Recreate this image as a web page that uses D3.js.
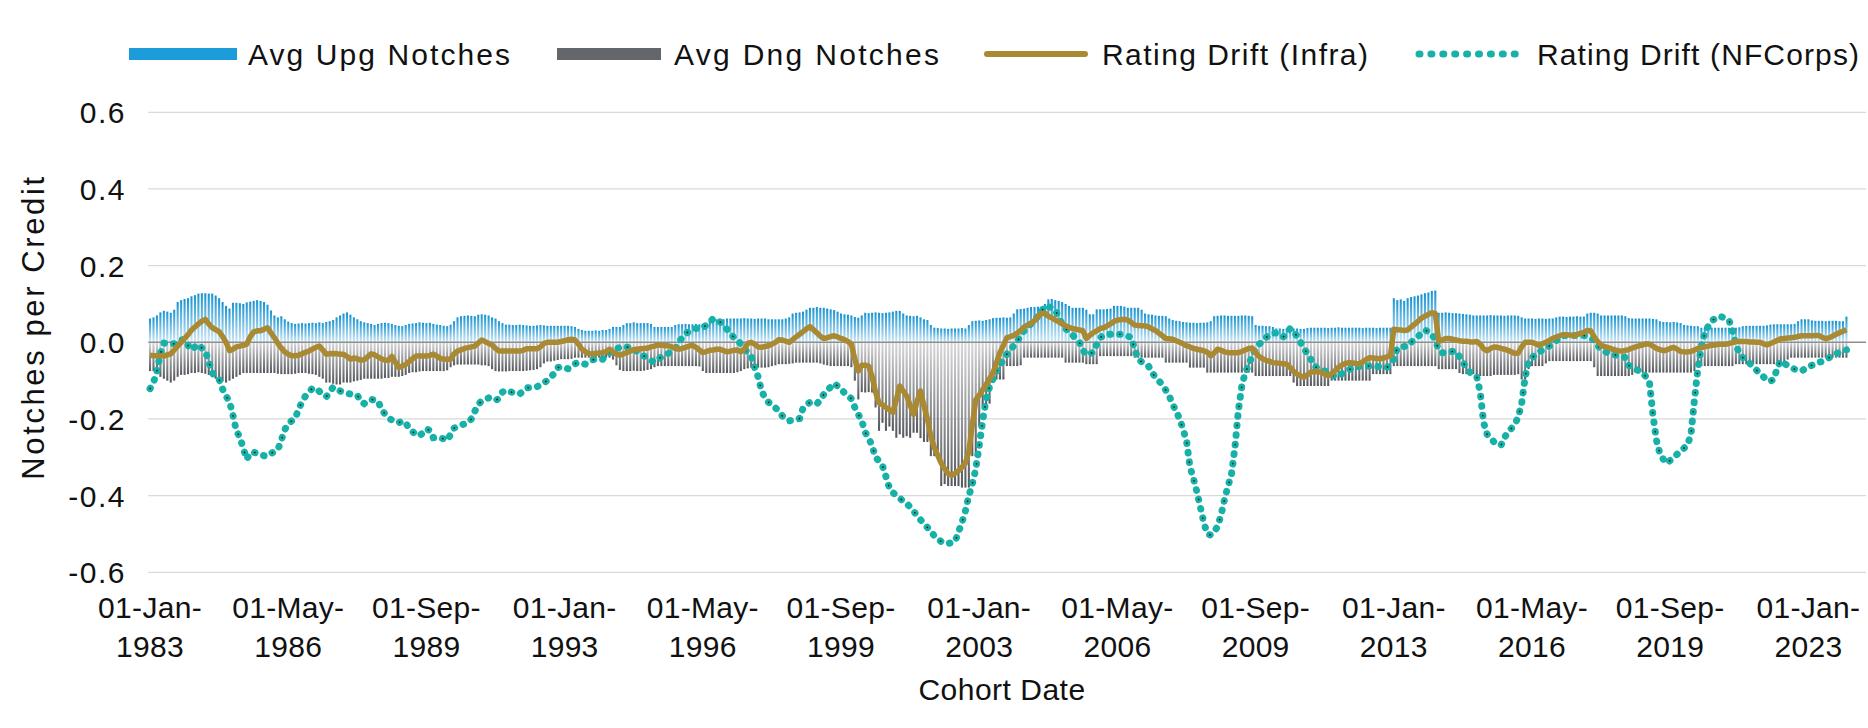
<!DOCTYPE html>
<html>
<head>
<meta charset="UTF-8">
<title>Rating Drift</title>
<script src="https://cdn.jsdelivr.net/npm/d3@7"></script>
<style>
body{margin:0;background:#fff;}
svg text{font-family:"Liberation Sans",Arial,sans-serif;fill:#111;}
</style>
</head>
<body>
<script>
var width=1868,height=728;

// monthly cohorts, Jan 1983 .. Dec 2023
var firstMonth=new Date(1983,0,1), endMonth=new Date(2024,0,1);
var tickLabels=["01-Jan-1983","01-May-1986","01-Sep-1989","01-Jan-1993","01-May-1996","01-Sep-1999",
  "01-Jan-2003","01-May-2006","01-Sep-2009","01-Jan-2013","01-May-2016","01-Sep-2019","01-Jan-2023"];
var seriesNames=["Avg Upg Notches","Avg Dng Notches","Rating Drift (Infra)","Rating Drift (NFCorps)"];

// one row per year
var upg=[
.062,.065,.070,.078,.082,.080,.077,.085,.105,.110,.113,.115,
.120,.123,.127,.128,.128,.127,.127,.122,.115,.105,.095,.088,
.103,.103,.102,.100,.104,.106,.108,.110,.108,.105,.098,.083,
.070,.065,.068,.060,.054,.050,.048,.049,.050,.049,.050,.051,
.050,.052,.050,.053,.055,.058,.065,.070,.075,.078,.072,.065,
.060,.055,.052,.050,.048,.045,.048,.050,.051,.050,.048,.045,
.043,.042,.045,.048,.049,.050,.052,.051,.050,.051,.048,.046,
.045,.043,.042,.046,.055,.065,.068,.069,.070,.069,.068,.072,
.073,.072,.070,.065,.062,.055,.050,.046,.046,.045,.045,.046,
.045,.044,.043,.043,.044,.045,.044,.043,.043,.043,.043,.043,
.043,.043,.042,.040,.035,.032,.030,.030,.030,.031,.030,.032,
.032,.035,.040,.040,.040,.045,.050,.050,.052,.050,.050,.050,
.050,.048,.040,.040,.040,.040,.040,.040,.045,.047,.047,.048,
.047,.047,.048,.047,.048,.050,.055,.060,.060,.060,.060,.062,
.062,.062,.062,.062,.063,.062,.062,.061,.062,.062,.062,.060,
.060,.060,.060,.060,.062,.065,.075,.077,.078,.080,.085,.090,
.090,.092,.090,.090,.088,.086,.084,.080,.075,.073,.072,.070,
.066,.064,.070,.077,.076,.077,.078,.077,.076,.077,.078,.080,
.082,.082,.075,.070,.069,.068,.069,.065,.060,.058,.045,.038,
.037,.036,.036,.035,.036,.036,.036,.037,.036,.045,.055,.056,
.057,.056,.058,.060,.063,.064,.064,.065,.064,.065,.075,.086,
.087,.088,.090,.092,.092,.093,.092,.100,.112,.113,.110,.108,
.105,.100,.095,.090,.090,.090,.090,.085,.073,.073,.086,.086,
.086,.087,.088,.095,.095,.095,.093,.090,.090,.090,.090,.085,
.075,.073,.072,.070,.069,.069,.068,.062,.058,.056,.055,.053,
.052,.051,.051,.050,.051,.051,.052,.055,.068,.069,.070,.070,
.069,.069,.069,.069,.070,.070,.069,.068,.045,.043,.043,.042,
.042,.040,.036,.036,.035,.036,.035,.036,.036,.035,.035,.037,
.038,.038,.038,.038,.038,.037,.038,.038,.039,.038,.038,.038,
.038,.038,.038,.037,.038,.038,.038,.037,.038,.038,.038,.038,
.115,.110,.112,.108,.115,.118,.120,.122,.125,.128,.130,.134,
.135,.077,.077,.078,.077,.076,.076,.075,.074,.073,.072,.070,
.070,.070,.070,.070,.071,.070,.070,.070,.069,.070,.070,.070,
.069,.065,.062,.062,.062,.061,.062,.062,.061,.062,.062,.065,
.067,.067,.066,.067,.067,.068,.067,.067,.075,.077,.077,.075,
.070,.070,.070,.070,.070,.070,.070,.068,.063,.062,.062,.062,
.062,.062,.062,.061,.060,.055,.053,.053,.052,.053,.052,.050,
.045,.044,.043,.042,.042,.038,.038,.038,.038,.038,.038,.038,
.038,.038,.038,.038,.039,.042,.043,.043,.043,.043,.043,.043,
.044,.046,.047,.047,.047,.047,.047,.047,.048,.055,.060,.060,
.060,.057,.056,.056,.056,.055,.056,.056,.056,.055,.055,.067];

var dng=[
-.075,-.075,-.078,-.090,-.095,-.100,-.105,-.100,-.090,-.085,-.085,-.083,
-.080,-.080,-.078,-.080,-.082,-.085,-.090,-.095,-.100,-.102,-.105,-.100,
-.095,-.090,-.085,-.080,-.080,-.080,-.080,-.080,-.080,-.080,-.080,-.080,
-.080,-.082,-.083,-.083,-.083,-.083,-.082,-.080,-.080,-.080,-.082,-.083,
-.085,-.090,-.095,-.105,-.105,-.108,-.110,-.110,-.105,-.105,-.105,-.102,
-.100,-.098,-.095,-.095,-.095,-.095,-.095,-.095,-.093,-.093,-.090,-.090,
-.090,-.088,-.085,-.080,-.078,-.078,-.076,-.075,-.075,-.075,-.075,-.075,
-.075,-.075,-.073,-.065,-.060,-.058,-.058,-.058,-.058,-.058,-.058,-.058,
-.060,-.060,-.062,-.070,-.075,-.076,-.076,-.076,-.075,-.075,-.075,-.075,
-.075,-.074,-.073,-.072,-.070,-.065,-.055,-.050,-.050,-.048,-.046,-.044,
-.044,-.044,-.043,-.040,-.040,-.040,-.040,-.040,-.040,-.040,-.040,-.040,
-.040,-.040,-.045,-.060,-.072,-.075,-.075,-.075,-.074,-.075,-.075,-.074,
-.072,-.070,-.065,-.062,-.062,-.062,-.062,-.062,-.062,-.062,-.062,-.062,
-.062,-.062,-.062,-.063,-.075,-.080,-.080,-.080,-.080,-.080,-.080,-.080,
-.080,-.080,-.078,-.075,-.070,-.068,-.066,-.066,-.066,-.066,-.066,-.065,
-.062,-.060,-.057,-.057,-.057,-.056,-.055,-.053,-.053,-.053,-.053,-.053,
-.053,-.053,-.055,-.058,-.060,-.062,-.062,-.062,-.062,-.062,-.062,-.065,
-.100,-.149,-.130,-.131,-.130,-.131,-.170,-.231,-.210,-.231,-.220,-.231,
-.249,-.240,-.249,-.245,-.249,-.236,-.236,-.250,-.260,-.260,-.297,-.297,
-.297,-.375,-.370,-.375,-.375,-.375,-.375,-.379,-.379,-.379,-.297,-.297,
-.220,-.166,-.166,-.160,-.097,-.097,-.097,-.097,-.062,-.062,-.062,-.062,
-.060,-.040,-.040,-.040,-.040,-.040,-.040,-.040,-.040,-.040,-.040,-.040,
-.040,-.053,-.053,-.053,-.053,-.053,-.053,-.057,-.057,-.057,-.057,-.036,
-.036,-.036,-.036,-.036,-.036,-.036,-.036,-.036,-.036,-.040,-.040,-.040,
-.040,-.040,-.040,-.040,-.040,-.040,-.053,-.053,-.053,-.053,-.053,-.053,
-.053,-.066,-.066,-.066,-.066,-.066,-.079,-.079,-.079,-.079,-.079,-.079,
-.079,-.079,-.079,-.079,-.079,-.079,-.079,-.079,-.088,-.088,-.088,-.088,
-.088,-.088,-.088,-.088,-.088,-.088,-.088,-.105,-.114,-.114,-.114,-.114,
-.114,-.114,-.114,-.114,-.114,-.114,-.100,-.100,-.100,-.100,-.100,-.100,
-.100,-.100,-.100,-.100,-.100,-.100,-.083,-.083,-.083,-.083,-.083,-.083,
-.062,-.062,-.062,-.062,-.062,-.062,-.062,-.062,-.062,-.062,-.062,-.062,
-.062,-.070,-.070,-.070,-.070,-.070,-.070,-.080,-.083,-.083,-.083,-.083,
-.088,-.088,-.088,-.088,-.088,-.085,-.085,-.085,-.085,-.085,-.085,-.085,
-.083,-.097,-.097,-.070,-.062,-.062,-.062,-.062,-.055,-.049,-.049,-.049,
-.049,-.049,-.049,-.049,-.049,-.049,-.049,-.049,-.049,-.049,-.065,-.088,
-.088,-.088,-.088,-.088,-.088,-.088,-.088,-.088,-.088,-.085,-.080,-.079,
-.079,-.079,-.079,-.079,-.079,-.079,-.079,-.079,-.079,-.079,-.079,-.079,
-.079,-.079,-.079,-.075,-.062,-.062,-.062,-.062,-.062,-.062,-.062,-.062,
-.062,-.062,-.062,-.057,-.057,-.057,-.057,-.057,-.057,-.057,-.057,-.057,
-.057,-.057,-.057,-.057,-.057,-.055,-.045,-.040,-.040,-.040,-.040,-.040,
-.040,-.040,-.040,-.040,-.040,-.040,-.040,-.040,-.040,-.040,-.040,-.040];

var infra=[
-.034,-.035,-.035,-.035,-.036,-.033,-.030,-.020,-.010,.000,.010,.020,
.032,.040,.048,.055,.060,.048,.038,.033,.028,.015,.000,-.022,
-.018,-.012,-.010,-.008,-.005,.015,.027,.030,.030,.034,.038,.025,
.012,-.003,-.015,-.025,-.031,-.035,-.035,-.034,-.030,-.026,-.023,-.018,
-.013,-.010,-.020,-.031,-.030,-.029,-.030,-.031,-.031,-.037,-.044,-.041,
-.043,-.047,-.045,-.038,-.030,-.033,-.038,-.043,-.047,-.047,-.037,-.052,
-.066,-.062,-.058,-.050,-.043,-.036,-.036,-.036,-.036,-.034,-.031,-.036,
-.042,-.044,-.044,-.044,-.030,-.023,-.020,-.016,-.014,-.012,-.010,-.002,
.006,.002,-.003,-.007,-.016,-.023,-.023,-.023,-.023,-.023,-.023,-.023,
-.021,-.017,-.017,-.017,-.017,-.012,-.003,.000,.000,.000,.000,.002,
.004,.007,.008,.006,-.005,-.018,-.025,-.029,-.031,-.029,-.028,-.027,
-.024,-.018,-.025,-.031,-.034,-.030,-.027,-.023,-.019,-.018,-.017,-.016,
-.015,-.012,-.010,-.007,-.008,-.009,-.009,-.012,-.015,-.018,-.016,-.013,
-.010,-.008,-.013,-.020,-.027,-.024,-.021,-.020,-.018,-.018,-.022,-.025,
-.023,-.021,-.020,-.025,-.018,-.003,.000,-.005,-.012,-.013,-.011,-.009,
-.005,.000,.007,.006,.003,.000,.007,.014,.021,.028,.035,.041,
.033,.025,.016,.010,.012,.015,.017,.014,.010,.007,.002,-.005,
-.045,-.075,-.060,-.060,-.062,-.090,-.130,-.158,-.163,-.170,-.176,-.183,
-.150,-.114,-.127,-.140,-.164,-.188,-.155,-.127,-.165,-.200,-.245,-.275,
-.295,-.315,-.330,-.343,-.347,-.342,-.335,-.326,-.315,-.285,-.215,-.150,
-.138,-.124,-.110,-.095,-.080,-.054,-.027,-.008,.012,.015,.018,.024,
.031,.040,.045,.050,.056,.068,.075,.076,.068,.064,.058,.054,
.048,.043,.039,.036,.034,.032,.030,.010,.018,.025,.030,.036,
.038,.043,.048,.054,.058,.059,.060,.058,.052,.045,.044,.043,
.043,.040,.035,.031,.024,.017,.010,.009,.008,.004,.000,-.004,
-.009,-.012,-.016,-.018,-.020,-.022,-.026,-.035,-.028,-.018,-.021,-.025,
-.027,-.027,-.027,-.027,-.024,-.020,-.016,-.015,-.027,-.037,-.043,-.047,
-.050,-.053,-.054,-.055,-.056,-.057,-.066,-.076,-.083,-.088,-.091,-.085,
-.078,-.076,-.077,-.078,-.083,-.087,-.082,-.074,-.065,-.059,-.055,-.053,
-.054,-.055,-.057,-.051,-.045,-.040,-.041,-.042,-.043,-.041,-.038,-.036,
.034,.033,.032,.031,.032,.040,.047,.055,.063,.068,.073,.077,
.075,.002,.006,.010,.010,.008,.006,.004,.003,.003,.001,.001,
.002,-.005,-.017,-.022,-.016,-.012,-.013,-.016,-.018,-.021,-.025,-.029,
-.028,-.012,.000,.000,.000,-.004,-.008,-.004,.000,.005,.010,.014,
.017,.020,.020,.019,.017,.020,.023,.026,.031,.030,.014,.002,
-.008,-.011,-.014,-.017,-.020,-.022,-.023,-.021,-.019,-.015,-.012,-.009,
-.007,-.004,-.005,-.010,-.016,-.019,-.022,-.020,-.016,-.013,-.018,-.024,
-.025,-.025,-.024,-.020,-.016,-.014,-.012,-.010,-.008,-.007,-.005,-.005,
-.005,-.003,-.001,.002,.002,.002,.002,.001,.001,.000,.000,-.004,
-.007,-.003,.001,.005,.009,.010,.011,.012,.013,.015,.017,.017,
.017,.017,.018,.018,.013,.009,.012,.016,.021,.025,.029,.033];

var nfcorps=[
-.121,-.105,-.075,-.030,-.002,-.003,-.004,-.004,.000,.006,.008,-.008,
-.020,-.012,-.005,-.015,-.023,-.050,-.080,-.090,-.097,-.122,-.140,-.155,
-.190,-.232,-.247,-.277,-.305,-.288,-.287,-.289,-.292,-.296,-.297,-.290,
-.285,-.280,-.255,-.228,-.212,-.205,-.199,-.175,-.155,-.140,-.130,-.120,
-.120,-.128,-.136,-.142,-.130,-.117,-.122,-.127,-.131,-.133,-.135,-.136,
-.138,-.155,-.160,-.153,-.149,-.151,-.153,-.175,-.187,-.197,-.203,-.207,
-.210,-.205,-.210,-.225,-.233,-.241,-.244,-.236,-.226,-.230,-.249,-.249,
-.249,-.252,-.256,-.240,-.224,-.220,-.216,-.213,-.210,-.200,-.180,-.162,
-.153,-.149,-.145,-.148,-.152,-.146,-.130,-.125,-.128,-.131,-.133,-.135,
-.127,-.119,-.118,-.117,-.116,-.111,-.105,-.100,-.092,-.080,-.066,-.064,
-.067,-.069,-.063,-.056,-.053,-.055,-.057,-.052,-.046,-.044,-.044,-.044,
-.034,-.027,-.022,-.017,-.013,-.010,-.012,-.015,-.018,-.024,-.030,-.036,
-.042,-.048,-.052,-.045,-.038,-.033,-.029,-.025,-.018,.000,.012,.023,
.028,.034,.036,.037,.038,.045,.053,.062,.058,.053,.045,.034,
.024,.012,.006,-.005,-.016,-.027,-.036,-.066,-.090,-.127,-.145,-.156,
-.163,-.171,-.179,-.192,-.198,-.205,-.203,-.201,-.199,-.172,-.162,-.157,
-.158,-.161,-.150,-.136,-.125,-.117,-.107,-.114,-.122,-.132,-.140,-.147,
-.170,-.188,-.205,-.235,-.250,-.270,-.300,-.310,-.322,-.350,-.380,-.392,
-.400,-.407,-.414,-.420,-.430,-.440,-.453,-.463,-.473,-.483,-.493,-.505,
-.512,-.520,-.524,-.525,-.523,-.520,-.495,-.470,-.440,-.400,-.370,-.330,
-.270,-.205,-.148,-.116,-.095,-.075,-.060,-.045,-.031,-.020,-.009,.000,
.020,.030,.040,.048,.057,.068,.080,.095,.093,.090,.085,.065,
.048,.036,.027,.019,.010,.000,-.020,-.033,-.030,-.026,-.005,.012,
.018,.020,.021,.021,.021,.021,.019,.016,.013,-.018,-.044,-.051,
-.058,-.062,-.078,-.092,-.101,-.110,-.125,-.140,-.162,-.180,-.200,-.227,
-.257,-.325,-.355,-.390,-.430,-.470,-.500,-.503,-.495,-.480,-.450,-.410,
-.375,-.345,-.275,-.179,-.114,-.078,-.060,-.035,-.016,-.005,.002,.012,
.020,.024,.024,.020,.014,.025,.036,.030,.015,.000,-.016,-.030,
-.045,-.062,-.068,-.072,-.075,-.078,-.084,-.090,-.088,-.082,-.078,-.072,
-.066,-.064,-.063,-.062,-.062,-.062,-.062,-.063,-.064,-.065,-.066,-.055,
-.044,-.015,-.013,-.011,-.010,.000,.007,.015,.023,.032,.028,.022,
.005,-.020,-.027,-.027,-.025,-.024,-.023,-.038,-.053,-.065,-.078,-.087,
-.090,-.130,-.210,-.240,-.250,-.260,-.265,-.269,-.250,-.232,-.225,-.214,
-.195,-.160,-.092,-.050,-.040,-.033,-.026,-.020,-.015,-.010,-.005,.004,
.012,.017,.018,.018,.018,.018,.018,.018,.014,.010,.006,-.008,
-.020,-.024,-.028,-.031,-.033,-.035,-.036,-.040,-.060,-.066,-.070,-.075,
-.080,-.090,-.105,-.190,-.255,-.290,-.305,-.316,-.308,-.300,-.292,-.283,
-.276,-.268,-.240,-.150,-.070,-.012,.025,.042,.056,.062,.068,.066,
.062,.058,.030,-.005,-.030,-.040,-.048,-.055,-.063,-.073,-.082,-.090,
-.100,-.101,-.097,-.065,-.048,-.055,-.061,-.066,-.070,-.073,-.075,-.069,
-.064,-.060,-.056,-.052,-.050,-.046,-.040,-.034,-.030,-.026,-.023,-.020];

var months=d3.timeMonth.range(firstMonth,endMonth);
var fmtDate=d3.timeFormat("%d-%b-%Y");
var fmtNum=d3.formatLocale({decimal:".",thousands:",",grouping:[3],currency:["",""],minus:"-"}).format(".1f");

var svg=d3.select("body").append("svg")
  .attr("width",width).attr("height",height);

var plotLeft=148.3, step=3.455, plotRight=1866;
var x=d3.scaleBand()
  .domain(d3.range(months.length))
  .range([plotLeft,plotLeft+step*months.length])
  .paddingInner(0.4).paddingOuter(0.2);
var cx=function(i){return x(i)+x.bandwidth()/2;};
var y=d3.scaleLinear().domain([-0.6,0.6]).range([572.3,112.3]);

var defs=svg.append("defs");
var gUp=defs.append("linearGradient").attr("id","gUp").attr("x1",0).attr("y1",0).attr("x2",0).attr("y2",1);
gUp.append("stop").attr("offset","0%").attr("stop-color","#1593d2");
gUp.append("stop").attr("offset","100%").attr("stop-color","#cfe8f6");
var gDn=defs.append("linearGradient").attr("id","gDn").attr("x1",0).attr("y1",0).attr("x2",0).attr("y2",1);
gDn.append("stop").attr("offset","0%").attr("stop-color","#d8d8da");
gDn.append("stop").attr("offset","100%").attr("stop-color","#55585d");

// gridlines
var yTicks=[-0.6,-0.4,-0.2,0,0.2,0.4,0.6];
svg.append("g").selectAll("line").data(yTicks.filter(function(d){return d!==0;})).enter().append("line")
  .attr("x1",plotLeft).attr("x2",plotRight)
  .attr("y1",function(d){return y(d);}).attr("y2",function(d){return y(d);})
  .attr("stroke","#d9d9d9").attr("stroke-width",1.3);

// bars
svg.append("g").selectAll("rect").data(upg).enter().append("rect")
  .attr("x",function(d,i){return x(i);})
  .attr("y",function(d){return y(d);})
  .attr("width",x.bandwidth())
  .attr("height",function(d){return y(0)-y(d);})
  .attr("fill","url(#gUp)");
svg.append("g").selectAll("rect").data(dng).enter().append("rect")
  .attr("x",function(d,i){return x(i);})
  .attr("y",y(0))
  .attr("width",x.bandwidth())
  .attr("height",function(d){return y(d)-y(0);})
  .attr("fill","url(#gDn)");

// zero line
svg.append("line").attr("x1",plotLeft).attr("x2",plotRight)
  .attr("y1",y(0)).attr("y2",y(0))
  .attr("stroke","#8e8e8e").attr("stroke-width",1.6);

var line=d3.line().x(function(d,i){return cx(i);}).y(function(d){return y(d);});

svg.append("path").datum(nfcorps).attr("d",line)
  .attr("fill","none").attr("stroke","#17b1a8").attr("stroke-width",7)
  .attr("stroke-linecap","round").attr("stroke-dasharray","0.6 9");
svg.append("path").datum(nfcorps).attr("d",line)
  .attr("fill","none").attr("stroke","#1c1c1c").attr("stroke-width",1.6)
  .attr("stroke-linecap","round").attr("stroke-dasharray","0.2 19").attr("stroke-dashoffset",-0.2);
svg.append("path").datum(infra).attr("d",line)
  .attr("fill","none").attr("stroke","#a98a33").attr("stroke-width",5.5)
  .attr("stroke-linejoin","round");

// y axis
var yAxis=svg.append("g").attr("transform","translate(134,0)")
  .call(d3.axisLeft(y).tickValues(yTicks).tickFormat(fmtNum).tickSize(0).tickPadding(8));
yAxis.select(".domain").remove();
yAxis.selectAll("text").attr("font-size",30).attr("letter-spacing",1.5).attr("dy","0.35em")
  .attr("font-family",null).attr("fill","#111");

// x axis: two-line date labels
var tickIdx=d3.range(months.length).filter(function(i){return tickLabels.indexOf(fmtDate(months[i]))>=0;});
var xAxis=svg.append("g").attr("transform","translate(0,"+y(-0.6)+")")
  .call(d3.axisBottom(x).tickValues(tickIdx).tickSize(0).tickFormat(""));
xAxis.select(".domain").remove();
xAxis.selectAll(".tick text").each(function(i){
  var parts=fmtDate(months[i]).split("-");
  var t=d3.select(this).attr("font-size",30).attr("letter-spacing",0.3).attr("font-family",null)
    .attr("fill","#111").attr("y",0).attr("dy",null);
  t.append("tspan").attr("x",0).attr("y",46).text(parts[0]+"-"+parts[1]+"-");
  t.append("tspan").attr("x",0).attr("y",85).text(parts[2]);
});

// axis titles
svg.append("text").attr("transform","translate(44,327) rotate(-90)")
  .attr("text-anchor","middle").attr("font-size",31).attr("letter-spacing",2.6).text("Notches per Credit");
svg.append("text").attr("x",1002).attr("y",700)
  .attr("text-anchor","middle").attr("font-size",30).attr("letter-spacing",0.5).text("Cohort Date");

// legend
var lg=svg.append("g").attr("font-size",30);
var ly=54;
lg.append("rect").attr("x",129).attr("y",ly-6).attr("width",108).attr("height",12).attr("fill","#1c9dd9");
lg.append("rect").attr("x",557).attr("y",ly-6).attr("width",104).attr("height",12).attr("fill","#63666a");
lg.append("line").attr("x1",987).attr("x2",1085).attr("y1",ly).attr("y2",ly)
  .attr("stroke","#a98a33").attr("stroke-width",6).attr("stroke-linecap","round");
lg.append("line").attr("x1",1419).attr("x2",1516).attr("y1",ly).attr("y2",ly)
  .attr("stroke","#17b1a8").attr("stroke-width",7).attr("stroke-linecap","round").attr("stroke-dasharray","1 10.9");
var lx=[248,674,1102,1537], lw=[262,265,266,322];
lg.selectAll("text.lbl").data(seriesNames).enter().append("text")
  .attr("x",function(d,i){return lx[i];}).attr("y",ly).attr("dy","0.35em")
  .attr("textLength",function(d,i){return lw[i];}).attr("lengthAdjust","spacing")
  .text(function(d){return d;});
</script>
</body>
</html>
